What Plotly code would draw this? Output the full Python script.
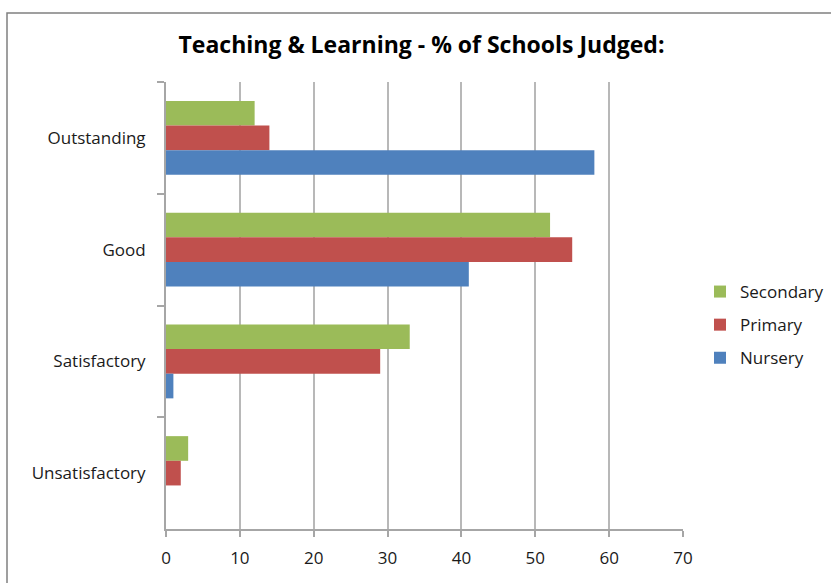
import plotly.graph_objects as go

categories = ["Outstanding", "Good", "Satisfactory", "Unsatisfactory"]
secondary = [12, 52, 33, 3]
primary = [14, 55, 29, 2]
nursery = [58, 41, 1, 0]
series_names = ["Secondary", "Primary", "Nursery"]
series_values = [secondary, primary, nursery]
colors = ["#9BBB59", "#C0504D", "#4F81BD"]
x_ticks = [0, 10, 20, 30, 40, 50, 60, 70]

FONT = "Open Sans"
fig = go.Figure()
for name, vals, col in zip(series_names, series_values, colors):
    fig.add_trace(go.Bar(
        y=categories, x=vals, name=name, orientation="h",
        marker=dict(color=col, line=dict(width=0)),
        legendgroup=name,
    ))

W, H = 831, 583
L, R, T, B = 166, 148, 82, 54
pw, ph = W - L - R, H - T - B

def px_x(x):
    return (x - L) / pw

def px_y(y):
    return (H - B - y) / ph

fig.update_layout(
    width=W, height=H,
    margin=dict(l=L, r=R, t=T, b=B, autoexpand=False),
    paper_bgcolor="white", plot_bgcolor="white",
    barmode="group", bargap=0.338, bargroupgap=0,
    title=dict(text="<b>Teaching &amp; Learning - % of Schools Judged:</b>",
               x=421.5 / W, xanchor="center", y=1 - 45 / H, yanchor="middle",
               font=dict(family=FONT, size=23, color="black")),
    font=dict(family=FONT, size=17, color="#1a1a1a"),
    xaxis=dict(range=[0, 70], tickvals=x_ticks, showgrid=True,
               gridcolor="#b8b8b8", gridwidth=1.5, zeroline=False,
               showline=True, linecolor="#a6a6a6", linewidth=2,
               ticks="outside", ticklen=6, tickcolor="#a6a6a6", tickwidth=1.5,
               ticklabelstandoff=7, tickfont=dict(size=17), automargin=False),
    yaxis=dict(type="category", categoryorder="array", categoryarray=categories,
               autorange="reversed", showgrid=False, zeroline=False,
               showline=True, linecolor="#a6a6a6", linewidth=2,
               ticks="outside", tickson="boundaries", ticklen=7,
               tickcolor="#a6a6a6", tickwidth=1.5, ticklabelstandoff=15,
               tickfont=dict(size=17), automargin=False),
    legend=dict(x=px_x(700), xanchor="left", y=px_y(274), yanchor="top",
                tracegroupgap=8, font=dict(size=17), traceorder="grouped",
                bgcolor="rgba(0,0,0,0)"),
    shapes=[dict(type="rect", xref="paper", yref="paper",
                 x0=px_x(7), x1=px_x(845), y0=px_y(600), y1=px_y(13),
                 line=dict(color="#808080", width=1.5), layer="below")],
)

fig.write_html("out.html")
